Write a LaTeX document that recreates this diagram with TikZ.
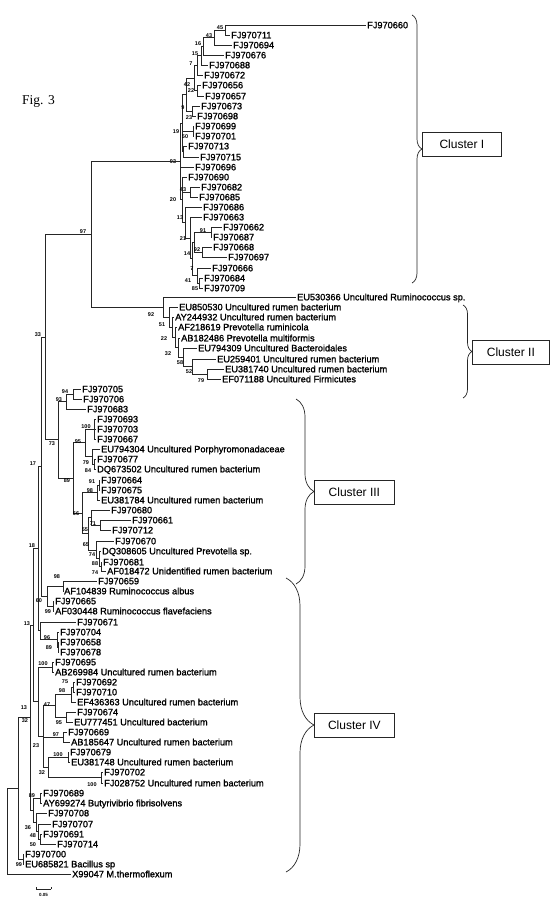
\documentclass[tikz,border=0pt]{standalone}
\usepackage{fontspec}
\setmainfont{Liberation Sans}
\newfontfamily\leaffam{Liberation Sans}[FakeBold=1.4]
\newfontfamily\serifam{Liberation Serif}
\usetikzlibrary{decorations.pathreplacing}
\newcommand\leaffont{\leaffam\fontsize{9.2}{10}\selectfont}
\newcommand\bsfont{\bfseries\fontsize{5.5}{6}\selectfont}
\newcommand\lf[4]{\node[leaf] (#1) at (#2-1.5,#3) {#4};}
\newcommand\bs[3]{\node[bsl] at (#1,#2) {#3};}
\begin{document}
\begin{tikzpicture}[x=1pt,y=-1pt,
  leaf/.style={anchor=west,inner xsep=1.5pt,inner ysep=0pt,text height=6.6pt,text depth=0pt,font=\leaffont},
  bsl/.style={inner sep=0pt,text height=4pt,text depth=0pt,font=\bsfont},
  br/.style={line width=0.8pt,draw=black!85},
  bracebr/.style={draw=black!85,line width=0.7pt,decorate,decoration={brace,amplitude=#1}},
  clbox/.style={draw=black!85,line width=0.7pt,anchor=west,minimum height=24pt,inner xsep=0pt,font=\fontsize{12}{13}\selectfont}]
\useasboundingbox (0,0) rectangle (550,900);
\node[anchor=west,inner sep=0pt,font=\serifam\fontsize{13.5}{14}\selectfont] (fig) at (22,101) {Fig. 3};
% ---------- Cluster I leaves
\lf{l660}{367}{25}{FJ970660}
\lf{l711}{231}{35}{FJ970711}
\lf{l694}{233}{45}{FJ970694}
\lf{l676}{225}{55}{FJ970676}
\lf{l688}{209}{65}{FJ970688}
\lf{l672}{204}{75}{FJ970672}
\lf{l656}{202}{85}{FJ970656}
\lf{l657}{205}{96}{FJ970657}
\lf{l673}{201}{106}{FJ970673}
\lf{l698}{197}{116}{FJ970698}
\lf{l699}{195}{126}{FJ970699}
\lf{l701}{195}{136}{FJ970701}
\lf{l713}{188}{146}{FJ970713}
\lf{l715}{200}{157}{FJ970715}
\lf{l696}{195}{167}{FJ970696}
\lf{l690}{188}{177}{FJ970690}
\lf{l682}{201}{187}{FJ970682}
\lf{l685}{199}{197}{FJ970685}
\lf{l686}{203}{207}{FJ970686}
\lf{l663}{203}{217}{FJ970663}
\lf{l662}{223}{227}{FJ970662}
\lf{l687}{213}{237}{FJ970687}
\lf{l668}{213}{247}{FJ970668}
\lf{l697}{228}{257}{FJ970697}
\lf{l666}{212}{268}{FJ970666}
\lf{l684}{204}{278}{FJ970684}
\lf{l709}{204}{288}{FJ970709}
\coordinate (n45) at (225,30);
\coordinate (n43) at (214,37.5);
\coordinate (n16) at (203,46.3);
\coordinate (n15) at (201,55.6);
\coordinate (n7) at (197,65.3);
\coordinate (n42) at (197,90.5);
\coordinate (n22) at (194,77.9);
\coordinate (n23) at (192,111);
\coordinate (n9) at (186,94.5);
\coordinate (n50) at (193,131);
\coordinate (nJ) at (183,151.5);
\coordinate (n19) at (182,123);
\coordinate (n43b) at (190,192);
\coordinate (n91) at (211,232);
\coordinate (n68) at (202,252);
\coordinate (n92) at (194,242);
\coordinate (n41) at (199,283);
\coordinate (n7b) at (197,275.5);
\coordinate (n14) at (192,258.7);
\coordinate (n21) at (190,237.9);
\coordinate (n13) at (185,222.4);
\coordinate (n20) at (182,199.7);
\coordinate (n93) at (180,161.3);
\draw[br] (n45) |- (l660.west) (n45) |- (l711.west);
\draw[br] (n43) |- (n45) (n43) |- (l694.west);
\draw[br] (n16) |- (n43) (n16) |- (l676.west);
\draw[br] (n15) |- (n16) (n15) |- (l688.west);
\draw[br] (n7) |- (n15) (n7) |- (l672.west);
\draw[br] (n42) |- (l656.west) (n42) |- (l657.west);
\draw[br] (n22) |- (n7) (n22) |- (n42);
\draw[br] (n23) |- (l673.west) (n23) |- (l698.west);
\draw[br] (n9) |- (n22) (n9) |- (n23);
\draw[br] (n50) |- (l699.west) (n50) |- (l701.west);
\draw[br] (nJ) |- (l713.west) (nJ) |- (l715.west);
\draw[br] (n19) |- (n9) (n19) |- (n50) (n19) |- (nJ);
\draw[br] (n43b) |- (l682.west) (n43b) |- (l685.west);
\draw[br] (n91) |- (l662.west) (n91) |- (l687.west);
\draw[br] (n68) |- (l668.west) (n68) |- (l697.west);
\draw[br] (n92) |- (n91) (n92) |- (n68);
\draw[br] (n41) |- (l684.west) (n41) |- (l709.west);
\draw[br] (n7b) |- (l666.west) (n7b) |- (n41);
\draw[br] (n14) |- (n92) (n14) |- (n7b);
\draw[br] (n21) |- (l663.west) (n21) |- (n14);
\draw[br] (n13) |- (l686.west) (n13) |- (n21);
\draw[br] (n20) |- (l690.west) (n20) |- (n43b) (n20) |- (n13);
\draw[br] (n93) |- (n19) (n93) |- (l696.west) (n93) |- (n20);
\bs{220}{27}{45}\bs{209}{35}{43}\bs{198}{43}{16}\bs{195}{53}{15}\bs{191}{63}{7}
\bs{187}{84}{42}\bs{191}{90}{22}\bs{183}{107}{9}\bs{189}{117}{23}\bs{176}{131}{19}
\bs{185}{136}{50}\bs{173}{161}{93}\bs{183}{189}{43}\bs{173}{199}{20}\bs{180}{217}{13}
\bs{183}{238}{21}\bs{203}{230}{91}\bs{197}{249}{92}\bs{187}{253}{14}\bs{192}{268}{7}
\bs{188}{280}{41}\bs{195}{288}{85}
% ---------- Cluster II
\lf{c366}{297}{297}{EU530366 Uncultured Ruminococcus sp.}
\lf{c530}{179}{307}{EU850530 Uncultured rumen bacterium}
\lf{c932}{175}{317}{AY244932 Uncultured rumen bacterium}
\lf{c619}{178}{327}{AF218619 Prevotella ruminicola}
\lf{c486}{181}{338}{AB182486 Prevotella multiformis}
\lf{c309}{198}{348}{EU794309 Uncultured Bacteroidales}
\lf{c401}{217}{359}{EU259401 Uncultured rumen bacterium}
\lf{c740}{225}{369}{EU381740 Uncultured rumen bacterium}
\lf{c188}{222}{379}{EF071188 Uncultured Firmicutes}
\coordinate (m79) at (207,374);
\coordinate (m52) at (192,366.5);
\coordinate (m58) at (183,357.3);
\coordinate (m32) at (178,347.6);
\coordinate (m22) at (175,337.3);
\coordinate (m51) at (172,327.2);
\coordinate (mX) at (169,317.1);
\coordinate (m92) at (163,307);
\draw[br] (m79) |- (c740.west) (m79) |- (c188.west);
\draw[br] (m52) |- (c401.west) (m52) |- (m79);
\draw[br] (m58) |- (c309.west) (m58) |- (m52);
\draw[br] (m32) |- (c486.west) (m32) |- (m58);
\draw[br] (m22) |- (c619.west) (m22) |- (m32);
\draw[br] (m51) |- (c932.west) (m51) |- (m22);
\draw[br] (mX) |- (c530.west) (mX) |- (m51);
\draw[br] (m92) |- (c366.west) (m92) |- (mX);
\coordinate (n97) at (91,234.2);
\draw[br] (n97) |- (n93) (n97) |- (m92);
\bs{83}{231}{97}
\bs{151}{314}{92}\bs{162}{324}{51}\bs{164}{338}{22}\bs{168}{353}{32}\bs{180}{362}{58}
\bs{189}{371}{52}\bs{201}{380}{79}
% ---------- Cluster III
\lf{t705}{82}{389}{FJ970705}
\lf{t706}{83}{399}{FJ970706}
\lf{t683}{87}{409}{FJ970683}
\lf{t693}{97}{419}{FJ970693}
\lf{t703}{97}{429}{FJ970703}
\lf{t667}{97}{439}{FJ970667}
\lf{t304}{101}{449}{EU794304 Uncultured Porphyromonadaceae}
\lf{t677}{97}{459}{FJ970677}
\lf{t502}{97}{469}{DQ673502 Uncultured rumen bacterium}
\lf{t664}{101}{480}{FJ970664}
\lf{t675}{101}{490}{FJ970675}
\lf{t784}{101}{500}{EU381784 Uncultured rumen bacterium}
\lf{t680}{111}{510}{FJ970680}
\lf{t661}{132}{520}{FJ970661}
\lf{t712}{112}{530}{FJ970712}
\lf{t670}{115}{541}{FJ970670}
\lf{t605}{102}{551}{DQ308605 Uncultured Prevotella sp.}
\lf{t681}{103}{562}{FJ970681}
\lf{t472}{107}{571}{AF018472 Unidentified rumen bacterium}
\coordinate (p94) at (73,394);
\coordinate (p93) at (66,401.5);
\coordinate (p100) at (94,429);
\coordinate (p84) at (94,464);
\coordinate (p79) at (92,456.5);
\coordinate (p95) at (85,442.7);
\coordinate (p91) at (99,485);
\coordinate (p98) at (97,492.5);
\coordinate (p71) at (100,525);
\coordinate (pX) at (91,517.5);
\coordinate (p88) at (101,566.5);
\coordinate (p74) at (99,558.7);
\coordinate (p65) at (96,549.9);
\coordinate (p55) at (88,533.7);
\coordinate (p66) at (82,513.1);
\coordinate (p89) at (73,477.9);
\coordinate (p73) at (58,439.7);
\draw[br] (p94) |- (t705.west) (p94) |- (t706.west);
\draw[br] (p93) |- (p94) (p93) |- (t683.west);
\draw[br] (p100) |- (t693.west) (p100) |- (t703.west) (p100) |- (t667.west);
\draw[br] (p84) |- (t677.west) (p84) |- (t502.west);
\draw[br] (p79) |- (t304.west) (p79) |- (p84);
\draw[br] (p95) |- (p100) (p95) |- (p79);
\draw[br] (p91) |- (t664.west) (p91) |- (t675.west);
\draw[br] (p98) |- (p91) (p98) |- (t784.west);
\draw[br] (p71) |- (t661.west) (p71) |- (t712.west);
\draw[br] (pX) |- (t680.west) (pX) |- (p71);
\draw[br] (p88) |- (t681.west) (p88) |- (t472.west);
\draw[br] (p74) |- (t605.west) (p74) |- (p88);
\draw[br] (p65) |- (t670.west) (p65) |- (p74);
\draw[br] (p55) |- (pX) (p55) |- (p65);
\draw[br] (p66) |- (p98) (p66) |- (p55);
\draw[br] (p89) |- (p95) (p89) |- (p66);
\draw[br] (p73) |- (p93) (p73) |- (p89);
\coordinate (n33) at (45,337);
\draw[br] (n33) |- (n97) (n33) |- (p73);
\bs{38}{334}{33}
\bs{65}{391}{94}\bs{59}{399}{93}\bs{52}{443}{73}\bs{86}{426}{100}\bs{78}{441}{95}
\bs{86}{462}{79}\bs{88}{470}{84}\bs{67}{480}{89}\bs{92}{481}{91}\bs{90}{490}{98}
\bs{76}{513}{66}\bs{85}{529}{55}\bs{93}{523}{71}\bs{86}{544}{65}\bs{92}{554}{74}
\bs{95}{563}{88}\bs{95}{572}{74}
% ---------- lower part
\lf{u659}{98}{581}{FJ970659}
\lf{u839}{64}{591}{AF104839 Ruminococcus albus}
\lf{u665}{55}{601}{FJ970665}
\lf{u448}{55}{611}{AF030448 Ruminococcus flavefaciens}
\lf{u671}{77}{622}{FJ970671}
\lf{u704}{60}{632}{FJ970704}
\lf{u658}{60}{642}{FJ970658}
\lf{u678}{60}{652}{FJ970678}
\lf{u695}{55}{662}{FJ970695}
\lf{u984}{55}{672}{AB269984 Uncultured rumen bacterium}
\lf{u692}{76}{682}{FJ970692}
\lf{u710}{76}{692}{FJ970710}
\lf{u363}{77}{702}{EF436363 Uncultured rumen bacterium}
\lf{u674}{77}{712}{FJ970674}
\lf{u451}{74}{722}{EU777451 Uncultured bacterium}
\lf{u669}{68}{732}{FJ970669}
\lf{u647}{71}{742}{AB185647 Uncultured rumen bacterium}
\lf{u679}{70}{752}{FJ970679}
\lf{u748}{71}{762}{EU381748 Uncultured rumen bacterium}
\lf{u702}{104}{772}{FJ970702}
\lf{u752}{104}{783}{FJ028752 Uncultured rumen bacterium}
\lf{u689}{43}{793}{FJ970689}
\lf{u274}{43}{803}{AY699274 Butyrivibrio fibrisolvens}
\lf{u708}{48}{813}{FJ970708}
\lf{u707}{52}{824}{FJ970707}
\lf{u691}{43}{834}{FJ970691}
\lf{u714}{57}{844}{FJ970714}
\lf{u700}{25}{854}{FJ970700}
\lf{u821}{25}{864}{EU685821 Bacillus sp}
\lf{u047}{72}{874}{X99047 M.thermoflexum}
\coordinate (q98) at (63,586);
\coordinate (q99) at (53,606);
\coordinate (q60) at (47,596);
\coordinate (n17) at (41,466.5);
\coordinate (q89) at (58,647);
\coordinate (q96) at (57,639.5);
\coordinate (qA) at (40,630.8);
\coordinate (n18) at (38,548.6);
\coordinate (q100a) at (52,667);
\coordinate (q75) at (73,687);
\coordinate (q98c) at (71,694.5);
\coordinate (q95) at (66,717);
\coordinate (q47) at (55,705.8);
\coordinate (q97) at (63,737);
\coordinate (q100b) at (68,757);
\coordinate (q100c) at (101,777.5);
\coordinate (q32) at (48,767.3);
\coordinate (q23) at (43,736.6);
\coordinate (q13b) at (38,701.8);
\coordinate (q13a) at (33,625.2);
\coordinate (q89b) at (40,798);
\coordinate (q50) at (40,839);
\coordinate (q48) at (38,831.5);
\coordinate (q36) at (36,822.3);
\coordinate (qE) at (33,810.1);
\coordinate (qC) at (30,717.7);
\coordinate (qBac) at (23,859);
\coordinate (qB) at (18,788.3);
\coordinate (root) at (7,831.2);
\draw[br] (q98) |- (u659.west) (q98) |- (u839.west);
\draw[br] (q99) |- (u665.west) (q99) |- (u448.west);
\draw[br] (q60) |- (q98) (q60) |- (q99);
\draw[br] (n17) |- (n33) (n17) |- (q60);
\draw[br] (q89) |- (u658.west) (q89) |- (u678.west);
\draw[br] (q96) |- (u704.west) (q96) |- (q89);
\draw[br] (qA) |- (u671.west) (qA) |- (q96);
\draw[br] (n18) |- (n17) (n18) |- (qA);
\draw[br] (q100a) |- (u695.west) (q100a) |- (u984.west);
\draw[br] (q75) |- (u692.west) (q75) |- (u710.west);
\draw[br] (q98c) |- (q75) (q98c) |- (u363.west);
\draw[br] (q95) |- (u674.west) (q95) |- (u451.west);
\draw[br] (q47) |- (q98c) (q47) |- (q95);
\draw[br] (q97) |- (u669.west) (q97) |- (u647.west);
\draw[br] (q100b) |- (u679.west) (q100b) |- (u748.west);
\draw[br] (q100c) |- (u702.west) (q100c) |- (u752.west);
\draw[br] (q32) |- (q100b) (q32) |- (q100c);
\draw[br] (q23) |- (q47) (q23) |- (q97) (q23) |- (q32);
\draw[br] (q13b) |- (q100a) (q13b) |- (q23);
\draw[br] (q13a) |- (n18) (q13a) |- (q13b);
\draw[br] (q89b) |- (u689.west) (q89b) |- (u274.west);
\draw[br] (q50) |- (u691.west) (q50) |- (u714.west);
\draw[br] (q48) |- (u707.west) (q48) |- (q50);
\draw[br] (q36) |- (u708.west) (q36) |- (q48);
\draw[br] (qE) |- (q89b) (qE) |- (q36);
\draw[br] (qC) |- (q13a) (qC) |- (qE);
\draw[br] (qBac) |- (u700.west) (qBac) |- (u821.west);
\draw[br] (qB) |- (qC) (qB) |- (qBac);
\draw[br] (root) |- (qB) (root) |- (u047.west);
\bs{33}{463}{17}\bs{32}{545}{18}\bs{57}{576}{98}\bs{39}{600}{60}\bs{48}{611}{99}
\bs{27}{623}{13}\bs{47}{637}{96}\bs{49}{647}{89}\bs{43}{663}{100}\bs{65}{681}{75}
\bs{62}{690}{98}\bs{47}{704}{47}\bs{24}{707}{13}\bs{59}{722}{95}\bs{25}{720}{32}
\bs{56}{734}{97}\bs{36}{745}{23}\bs{58}{754}{100}\bs{42}{772}{32}\bs{92}{784}{100}
\bs{32}{795}{89}\bs{28}{827}{36}\bs{33}{835}{48}\bs{33}{844}{50}\bs{19}{864}{99}
% ---------- scale bar
\coordinate (sb1) at (36,889);
\coordinate (sb2) at (51,889);
\draw[br,line width=0.6pt] (sb1) -- (sb2) (sb1) -- ++(0,-2) (sb2) -- ++(0,-2);
\node[inner sep=0pt,font=\bfseries\fontsize{4.5}{5}\selectfont] (sbl) at (43.5,895) {0.05};
% ---------- cluster braces and labels
\draw[bracebr=10pt] (412,15) -- (412,283);
\node[clbox,minimum width=79pt] (cI) at (422,144) {Cluster I};
\draw[bracebr=9pt] (463,305) -- (463,398);
\node[clbox,minimum width=77pt] (cII) at (472,352) {Cluster II};
\draw[bracebr=18pt] (296,399) -- (296,584);
\node[clbox,minimum width=80pt] (cIII) at (314,492) {Cluster III};
\draw[bracebr=28pt] (286,578) -- (286,872);
\node[clbox,minimum width=80pt] (cIV) at (314,725) {Cluster IV};
\end{tikzpicture}
\end{document}
